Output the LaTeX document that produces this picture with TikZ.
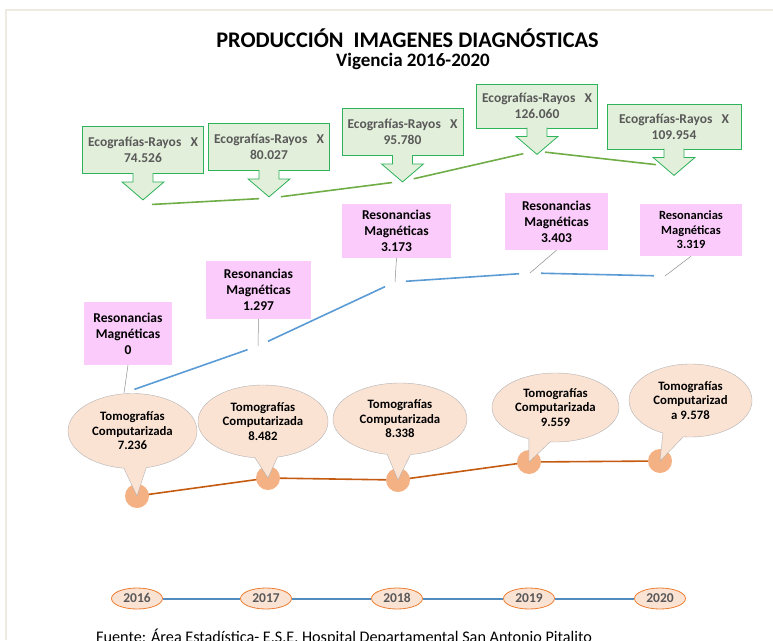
\documentclass[tikz,border=0pt]{standalone}
\usepackage{fontspec}
\setmainfont{Carlito}[Numbers=Lining]
\usetikzlibrary{shapes.geometric,shapes.callouts,backgrounds}
\definecolor{ecofill}{HTML}{E2EFDA}
\definecolor{ecoborder}{HTML}{2EB35A}
\definecolor{ecogreen}{HTML}{70AD47}
\definecolor{resfill}{HTML}{FBCBFB}
\definecolor{resblue}{HTML}{5B9BD5}
\definecolor{tomofill}{HTML}{FBE3D4}
\definecolor{tomoorange}{HTML}{C55A11}
\definecolor{dotfill}{HTML}{F4B183}
\definecolor{yearborder}{HTML}{ED7D31}
\definecolor{darkgray}{HTML}{595959}
\definecolor{framebeige}{HTML}{EEECE1}
\tikzset{ eco/.style = { rectangle % ecografias box
        , draw = ecoborder
        , fill = ecofill
        , line width = 0.8pt
        , minimum width = 121pt
        , minimum height = 47pt
        , align = center
        , text = darkgray
        , font = \bfseries\fontsize{13.5}{16}\selectfont
        }
        , eco_arrow/.style = { draw = ecoborder % block arrow under the box
        , fill = ecofill
        , line width = 0.8pt
        }
        , res/.style = { rectangle % resonancias label
        , fill = resfill
        , align = center
        , font = \bfseries\fontsize{13.5}{16}\selectfont
        }
        , tomo/.style = { ellipse callout % tomografias label
        , draw = black!30
        , fill = tomofill
        , inner sep = 0pt
        , callout pointer arc = 20
        , align = center
        , font = \bfseries\fontsize{12.8}{14.5}\selectfont
        }
        }

\begin{document}
\begin{tikzpicture}[x=1pt, y=-1pt,
        eco_line/.style={draw=ecogreen, line width=1.6pt, shorten <=10pt, shorten >=12pt},
        res_line/.style={draw=resblue, line width=1.6pt, shorten <=11pt, shorten >=11pt},
        tomo_line/.style={draw=tomoorange, line width=1.6pt},
        lead_style/.style={draw=black!45, line width=0.5pt},
        dot_style/.style={circle, fill=dotfill, minimum size=24pt, inner sep=0pt},
        year_style/.style={ellipse, draw=yearborder, fill=tomofill, line width=0.8pt, minimum width=51pt, minimum height=21pt, inner sep=0pt, text height=8.6pt, text depth=0pt, text=darkgray, font=\bfseries\fontsize{13.5}{15}\selectfont},
        year_line/.style={draw=resblue!90!black, line width=2pt}]
    \clip (0,0) rectangle (773,640);
    \draw [draw=framebeige, line width=1.2pt] (6,640) -- (6,10) -- (773,10);

    \node [font=\bfseries\fontsize{22.3}{26}\selectfont] (title) at (407.5,38) {PRODUCCIÓN\ \ IMAGENES DIAGNÓSTICAS};
    \node [font=\bfseries\fontsize{19}{22}\selectfont] (subtitle) at (413,61) {Vigencia 2016-2020};

    % ecografias
    \coordinate (g1) at (142,205);
    \coordinate (g2) at (271,198);
    \coordinate (g3) at (404,181);
    \coordinate (g4) at (535,151);
    \coordinate (g5) at (668,166);
    \draw [eco_line] (g1) -- (g2);
    \draw [eco_line] (g2) -- (g3);
    \draw [eco_line] (g3) -- (g4);
    \draw [eco_line] (g4) -- (g5);

    \node [eco] (e1) at (143,150) {Ecografías-Rayos\ \ \ X\\74.526};
    \node [eco] (e2) at (269,147) {Ecografías-Rayos\ \ \ X\\80.027};
    \node [eco] (e3) at (402.5,132) {Ecografías-Rayos\ \ \ X\\95.780};
    \node [eco, minimum height=44pt] (e4) at (537,106) {Ecografías-Rayos\ \ \ X\\126.060};
    \node [eco, minimum width=134pt, minimum height=45pt] (e5) at (674,126.5) {Ecografías-Rayos\ \ \ X\\109.954};
    \foreach \e in {e1,e2,e3,e4,e5}
        \draw [eco_arrow] ([xshift=-10pt,yshift=0.7pt]\e.south) -- ++(0,8.7) -- ++(-11,0) -- ++(21,18) -- ++(21,-18) -- ++(-11,0) -- ++(0,-8.7);

    % resonancias
    \coordinate (d1) at (124,393);
    \coordinate (d2) at (258,346);
    \coordinate (d3) at (395,282);
    \coordinate (d4) at (530,273);
    \coordinate (d5) at (665,276);
    \draw [res_line] (d1) -- (d2);
    \draw [res_line] (d2) -- (d3);
    \draw [res_line] (d3) -- (d4);
    \draw [res_line] (d4) -- (d5);

    \node [res, minimum width=88pt, minimum height=63pt] (r1) at (128,333.5) {Resonancias\\Magnéticas\\0};
    \node [res, minimum width=105pt, minimum height=58pt] (r2) at (258.5,290) {Resonancias\\Magnéticas\\1.297};
    \node [res, minimum width=109pt, minimum height=54pt] (r3) at (396.5,231) {Resonancias\\Magnéticas\\3.173};
    \node [res, minimum width=103pt, minimum height=57pt] (r4) at (556.5,221.5) {Resonancias\\Magnéticas\\3.403};
    \node [res, minimum width=102pt, minimum height=52pt, font=\bfseries\fontsize{12.5}{14.5}\selectfont] (r5) at (691,230) {Resonancias\\Magnéticas\\3.319};
    \draw [lead_style] (r1.south) -- (d1);
    \draw [lead_style] (r2.south) -- (d2);
    \draw [lead_style] (r3.south) -- (d3);
    \draw [lead_style] (r4.south) -- (d4);
    \draw [lead_style] (r5.south) -- (d5);

    % tomografias
    \node [dot_style] (o1) at (137,496) {};
    \node [dot_style] (o2) at (268,478) {};
    \node [dot_style] (o3) at (398,480) {};
    \node [dot_style] (o4) at (529,462) {};
    \node [dot_style] (o5) at (660,461) {};
    \begin{scope}[on background layer]
        \draw [tomo_line] (o1.center) -- (o2.center) -- (o3.center) -- (o4.center) -- (o5.center);
    \end{scope}

    \node [tomo, minimum width=129pt, minimum height=75pt, callout absolute pointer={(o1.center)}] (t1) at (132.5,431) {Tomografías\\Computarizada\\7.236};
    \node [tomo, minimum width=130pt, minimum height=73pt, callout absolute pointer={(o2.center)}] (t2) at (263,421.5) {Tomografías\\Computarizada\\8.482};
    \node [tomo, minimum width=134pt, minimum height=72pt, callout absolute pointer={(o3.center)}] (t3) at (400,419) {Tomografías\\Computarizada\\8.338};
    \node [tomo, minimum width=127pt, minimum height=69pt, callout absolute pointer={(o4.center)}] (t4) at (555.5,407.5) {Tomografías\\Computarizada\\9.559};
    \node [tomo, minimum width=123pt, minimum height=73pt, callout absolute pointer={(o5.center)}] (t5) at (690.5,400.5) {Tomografías\\Computarizad\\a 9.578};

    % years
    \node [year_style] (y1) at (137,598.5) {2016};
    \node [year_style] (y2) at (266,598.5) {2017};
    \node [year_style] (y3) at (397,598.5) {2018};
    \node [year_style] (y4) at (529,598.5) {2019};
    \node [year_style] (y5) at (660,598.5) {2020};
    \draw [year_line] (y1) -- (y2);
    \draw [year_line] (y2) -- (y3);
    \draw [year_line] (y3) -- (y4);
    \draw [year_line] (y4) -- (y5);

    \node [anchor=base west, inner sep=0pt, font=\fontsize{16.2}{18}\selectfont] (source) at (96,642.5) {Fuente: Área Estadística- E.S.E. Hospital Departamental San Antonio Pitalito};
\end{tikzpicture}
\end{document}
